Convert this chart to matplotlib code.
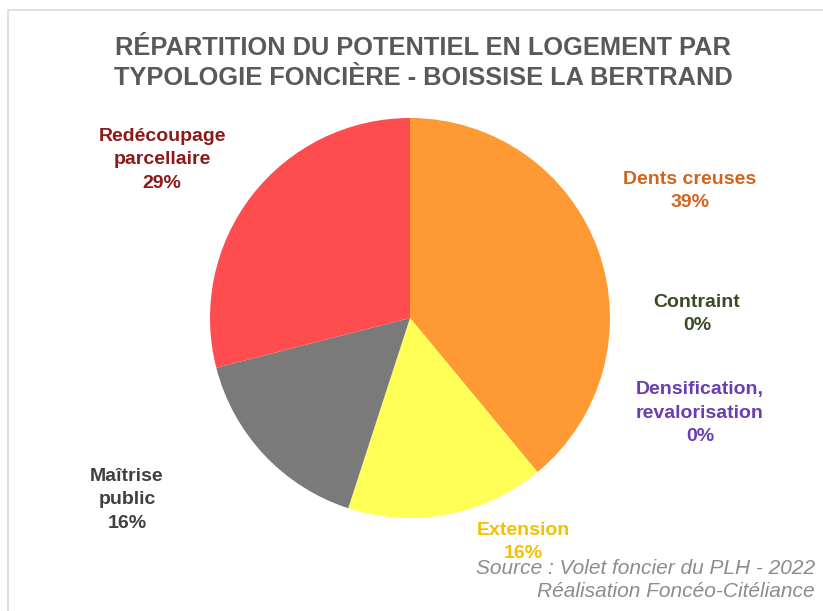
"""Pie: potentiel en logement par typologie foncière - Boissise la Bertrand."""
import matplotlib

matplotlib.use("Agg")
import matplotlib.pyplot as plt
from matplotlib.patches import Rectangle

plt.rcParams["font.family"] = ["Liberation Sans", "DejaVu Sans"]

categories = [
    "Dents creuses",
    "Contraint",
    "Densification,\nrevalorisation",
    "Extension",
    "Maîtrise\npublic",
    "Redécoupage\nparcellaire",
]
values = [39, 0, 0, 16, 16, 29]
wedge_colors = ["#FF9933", "#5A7A2A", "#7A4FC0", "#FFFF55", "#7A7A7A", "#FF4D4F"]
label_colors = ["#D0651E", "#3A4A22", "#6A3DB0", "#F5C000", "#404040", "#8B1A1A"]
# label centres in pixels (x, y from top)
label_pos = [(690, 191), (697, 314), (700, 413), (523, 542), (127, 500), (162, 160)]

W, H = 823, 611
fig = plt.figure(figsize=(W / 100, H / 100), dpi=100)
fig.patch.set_facecolor("white")

# light frame around the chart area
fig.add_artist(Rectangle((8 / W, -0.05), 1.1, 1 - 10 / H + 0.05, transform=fig.transFigure,
                         fill=False, edgecolor="#DADADA", lw=1.2))

cx, cy, r = 410, 318, 200
ax = fig.add_axes([(cx - r) / W, (H - cy - r) / H, 2 * r / W, 2 * r / H])
ax.pie(values, colors=wedge_colors, startangle=90, counterclock=False, radius=1,
       wedgeprops=dict(linewidth=0))
ax.set_xlim(-1, 1)
ax.set_ylim(-1, 1)
ax.set_aspect("equal")
ax.axis("off")

fig.text(423 / W, 1 - 63 / H, "RÉPARTITION DU POTENTIEL EN LOGEMENT PAR\nTYPOLOGIE FONCIÈRE - BOISSISE LA BERTRAND",
         ha="center", va="center", fontsize=18.3, fontweight="bold", color="#595959", linespacing=1.28)

total = sum(values)
for name, v, col, (px, py) in zip(categories, values, label_colors, label_pos):
    fig.text(px / W, 1 - py / H, f"{name}\n{round(100 * v / total)}%", ha="center", va="center",
             fontsize=14, fontweight="bold", color=col, linespacing=1.5)

fig.text(815 / W, 1 - 580 / H, "Source : Volet foncier du PLH - 2022\nRéalisation Foncéo-Citéliance",
         ha="right", va="center", fontsize=15, style="italic", color="#8C8C8C", linespacing=1.3)

fig.savefig("out.png", dpi=100)
